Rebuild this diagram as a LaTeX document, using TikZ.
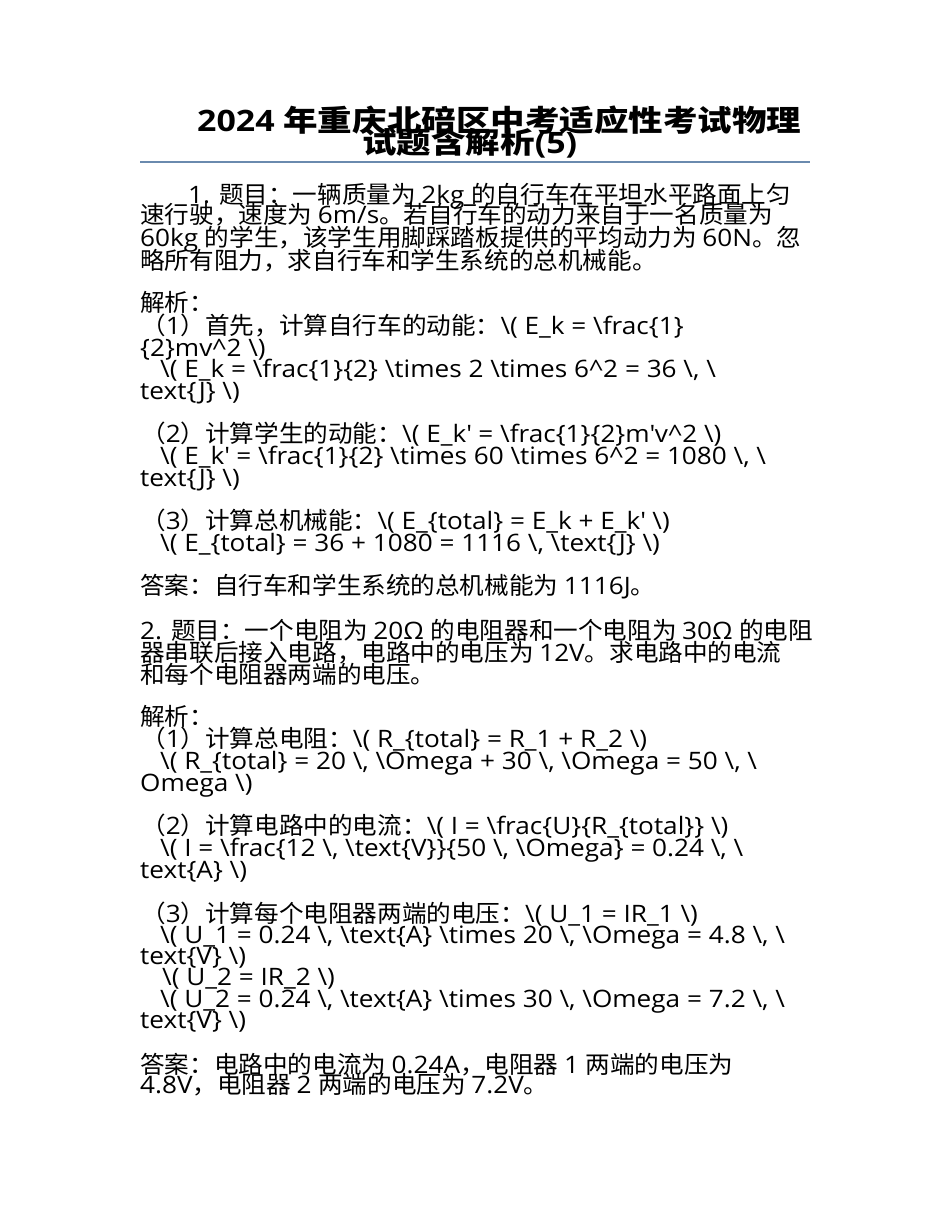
\documentclass[tikz,border=0pt]{standalone}
\usepackage{fontspec}
\setmainfont{Open Sans}[FakeStretch=1.09]
\newfontfamily\cjkfont{Noto Sans CJK SC}[FakeStretch=1.025]
\newfontfamily\latfont{Open Sans}[FakeStretch=1.09]
\newfontfamily\cjktitle{Noto Sans CJK SC}[FakeStretch=1.17]
\newfontfamily\lattitle{Open Sans}[FakeStretch=1.15]
\usepackage{tikz}

% mark CJK characters and switch fonts between Latin and CJK runs
\newcount\cjkc
\def\cjkrange#1#2{\cjkc=#1 \loop\XeTeXcharclass\cjkc=1 \advance\cjkc by 1 \ifnum\cjkc<#2 \repeat}
\cjkrange{"3000}{"3040}
\cjkrange{"4E00}{"A000}
\cjkrange{"FF00}{"FFF0}
\XeTeXinterchartokenstate=1
\XeTeXinterchartoks 0 1 {\cjkfont}
\XeTeXinterchartoks 4095 1 {\cjkfont}
\XeTeXinterchartoks 1 0 {\latfont}
\XeTeXinterchartoks 4095 0 {\latfont}

\definecolor{rulegray}{HTML}{6A8AAE}
\newcommand{\bsl}{\textbackslash}
\newcommand{\crt}{\textasciicircum}
\newcommand{\apo}{\textquotesingle}

\tikzset{
  titleline/.style={anchor=base west, inner sep=0pt, font=\let\cjkfont\cjktitle\let\latfont\lattitle\fontsize{29.5}{29.5}\selectfont\bfseries},
  bodyline/.style={anchor=base west, inner sep=0pt, font=\fontsize{24}{24}\selectfont}
}

\begin{document}
\begin{tikzpicture}[x=1pt,y=-1pt]
				\useasboundingbox[fill=white] (0,0) rectangle (950,1230);
				
				% Title
				\node[titleline] (ttl1) at (197,132) {2024 年重庆北碚区中考适应性考试物理};
				\node[titleline] (ttl2) at (362,154) {试题含解析(5)};
				\coordinate (rl) at (140,162);
				\coordinate (rr) at (810,162);
				\draw[rulegray, line width=1.5pt] (rl) -- (rr); % rule under title
				
				% Question 1
				\node[bodyline] (q1a) at (188,204) {1. 题目：一辆质量为 2kg 的自行车在平坦水平路面上匀};
				\node[bodyline] (q1b) at (140,224) {速行驶，速度为 6m/s。若自行车的动力来自于一名质量为};
				\node[bodyline] (q1c) at (140,247) {60kg 的学生，该学生用脚踩踏板提供的平均动力为 60N。忽};
				\node[bodyline] (q1d) at (140,270) {略所有阻力，求自行车和学生系统的总机械能。};
				
				\node[bodyline] (j1) at (140,311) {解析：};
				\node[bodyline] (s1a) at (141,334) {（1）首先，计算自行车的动能：\bsl( E\_k = \bsl frac\{1\}};
				\node[bodyline] (s1b) at (140,356) {\{2\}mv\crt 2 \bsl)};
				\node[bodyline] (s1c) at (160,377) {\bsl( E\_k = \bsl frac\{1\}\{2\} \bsl times 2 \bsl times 6\crt 2 = 36 \bsl, \bsl};
				\node[bodyline] (s1d) at (140,399) {text\{J\} \bsl)};
				
				\node[bodyline] (s2a) at (141,442) {（2）计算学生的动能：\bsl( E\_k\apo{} = \bsl frac\{1\}\{2\}m\apo{}v\crt 2 \bsl)};
				\node[bodyline] (s2b) at (160,464) {\bsl( E\_k\apo{} = \bsl frac\{1\}\{2\} \bsl times 60 \bsl times 6\crt 2 = 1080 \bsl, \bsl};
				\node[bodyline] (s2c) at (140,486) {text\{J\} \bsl)};
				
				\node[bodyline] (s3a) at (141,529) {（3）计算总机械能：\bsl( E\_\{total\} = E\_k + E\_k\apo{} \bsl)};
				\node[bodyline] (s3b) at (160,551) {\bsl( E\_\{total\} = 36 + 1080 = 1116 \bsl, \bsl text\{J\} \bsl)};
				
				\node[bodyline] (a1) at (140,594) {答案：自行车和学生系统的总机械能为 1116J。};
				
				% Question 2
				\node[bodyline] (q2a) at (140,639) {2. 题目：一个电阻为 20Ω 的电阻器和一个电阻为 30Ω 的电阻};
				\node[bodyline] (q2b) at (140,661) {器串联后接入电路，电路中的电压为 12V。求电路中的电流};
				\node[bodyline] (q2c) at (140,683) {和每个电阻器两端的电压。};
				
				\node[bodyline] (j2) at (140,725) {解析：};
				\node[bodyline] (t1a) at (141,747) {（1）计算总电阻：\bsl( R\_\{total\} = R\_1 + R\_2 \bsl)};
				\node[bodyline] (t1b) at (160,769) {\bsl( R\_\{total\} = 20 \bsl, \bsl Omega + 30 \bsl, \bsl Omega = 50 \bsl, \bsl};
				\node[bodyline] (t1c) at (140,791) {Omega \bsl)};
				
				\node[bodyline] (t2a) at (141,834) {（2）计算电路中的电流：\bsl( I = \bsl frac\{U\}\{R\_\{total\}\} \bsl)};
				\node[bodyline] (t2b) at (160,856) {\bsl( I = \bsl frac\{12 \bsl, \bsl text\{V\}\}\{50 \bsl, \bsl Omega\} = 0.24 \bsl, \bsl};
				\node[bodyline] (t2c) at (140,878) {text\{A\} \bsl)};
				
				\node[bodyline] (t3a) at (141,922) {（3）计算每个电阻器两端的电压：\bsl( U\_1 = IR\_1 \bsl)};
				\node[bodyline] (t3b) at (160,943) {\bsl( U\_1 = 0.24 \bsl, \bsl text\{A\} \bsl times 20 \bsl, \bsl Omega = 4.8 \bsl, \bsl};
				\node[bodyline] (t3c) at (140,964) {text\{V\} \bsl)};
				\node[bodyline] (t3d) at (162,985) {\bsl( U\_2 = IR\_2 \bsl)};
				\node[bodyline] (t3e) at (160,1007) {\bsl( U\_2 = 0.24 \bsl, \bsl text\{A\} \bsl times 30 \bsl, \bsl Omega = 7.2 \bsl, \bsl};
				\node[bodyline] (t3f) at (140,1028) {text\{V\} \bsl)};
				
				\node[bodyline] (a2a) at (140,1073) {答案：电路中的电流为 0.24A，电阻器 1 两端的电压为};
				\node[bodyline] (a2b) at (140,1093) {4.8V，电阻器 2 两端的电压为 7.2V。};
			\end{tikzpicture}
\end{document}
